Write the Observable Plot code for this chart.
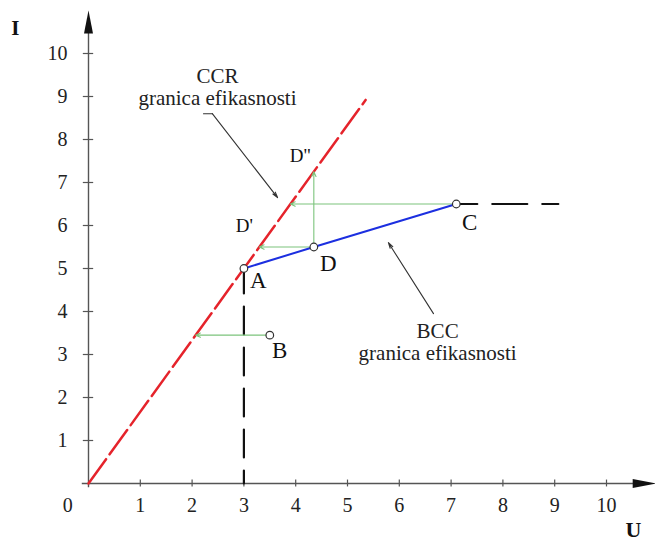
<!DOCTYPE html>
<html><head><meta charset="utf-8">
<script src="https://cdn.jsdelivr.net/npm/d3@7"></script>
<script src="https://cdn.jsdelivr.net/npm/@observablehq/plot@0.6"></script>
<style>body{margin:0;background:#fff}</style>
</head><body><div id="chart"></div>
<script>
// ---- data ----
const xTicks = [1, 2, 3, 4, 5, 6, 7, 8, 9, 10];
const yTicks = [1, 2, 3, 4, 5, 6, 7, 8, 9, 10];
const points = [
  {name: "A", u: 3, i: 5},
  {name: "B", u: 3.5, i: 3.45},
  {name: "C", u: 7.1, i: 6.5},
  {name: "D", u: 4.35, i: 5.5}
];
const bccFrontier = [{u: 3, i: 5}, {u: 4.35, i: 5.5}, {u: 7.1, i: 6.5}];
const ccrFrontier = [{u: 0, i: 0}, {u: 5.35, i: 8.92}];
const verticalExtension = [{u: 3, i: 5}, {u: 3, i: 0}];
const horizontalExtension = [{u: 7.1, i: 6.5}, {u: 9.07, i: 6.5}];
const projections = [
  {from: "D", u1: 4.35, i1: 5.5, u2: 3.3, i2: 5.5},
  {from: "D", u1: 4.35, i1: 5.5, u2: 4.35, i2: 7.25},
  {from: "C", u1: 7.1, i1: 6.5, u2: 3.9, i2: 6.5},
  {from: "B", u1: 3.5, i1: 3.45, u2: 2.07, i2: 3.45}
];
const pointLabels = [
  {text: "A", u: 3.28, i: 4.72},
  {text: "B", u: 3.69, i: 3.09},
  {text: "C", u: 7.36, i: 6.07},
  {text: "D", u: 4.63, i: 5.12}
];
const projLabels = [
  {text: "D'", u: 3.01, i: 6.0},
  {text: "D\"", u: 4.09, i: 7.63}
];
const notes = [
  {text: "CCR\ngranica efikasnosti", u: 2.49, i: 9.23},
  {text: "BCC\ngranica efikasnosti", u: 6.74, i: 3.30}
];
const ccrPointerTail = [{u: 2.22, i: 8.6}, {u: 2.39, i: 8.6}];
const ccrPointer = [{u1: 2.39, i1: 8.6, u2: 3.65, i2: 6.65}];
const bccPointer = [{u1: 6.66, i1: 3.95, u2: 5.79, i2: 5.6}];
const axisTitles = [
  {text: "I", u: -1.41, i: 10.58, size: 21},
  {text: "U", u: 10.52, i: -1.07, size: 22}
];
const axisLineX = [{u1: -0.12, u2: 10.8, i: 0}];
const axisLineY = [{u: 0, i1: -0.1, i2: 10.8}];
const axisTips = [{u: 10.95, i: 0, rot: 0}, {u: 0, i: 11.0, rot: -90}];
const originLabel = [{text: "0", u: -0.4, i: 0}];

// ---- styles ----
const axisColor = "#555";
const red = "#e5232b";
const blue = "#1c2fe0";
const green = "#7cc47c";
const font = "Liberation Serif, Times New Roman, serif";

const arrowHead = {
  draw(ctx) {
    ctx.moveTo(0, 0);
    ctx.lineTo(-23, -4.5);
    ctx.lineTo(-23, 4.5);
    ctx.closePath();
  }
};

const chart = Plot.plot({
  width: 655,
  height: 543,
  marginLeft: 88,
  marginRight: 49,
  marginTop: 53,
  marginBottom: 60,
  x: {domain: [0, 10]},
  y: {domain: [0, 10]},
  style: {fontFamily: font, background: "#fff", overflow: "visible"},
  marks: [
    // axes
    Plot.ruleY(axisLineX, {x1: "u1", x2: "u2", y: "i", stroke: axisColor, strokeWidth: 1.4}),
    Plot.ruleX(axisLineY, {x: "u", y1: "i1", y2: "i2", stroke: axisColor, strokeWidth: 1.4}),
    Plot.dot(axisTips, {x: "u", y: "i", symbol: arrowHead, rotate: "rot", fill: "#111", stroke: "none"}),
    Plot.ruleX(xTicks, {x: d => d, y1: -0.08, y2: 0.08, stroke: axisColor, strokeWidth: 1.2}),
    Plot.ruleY(yTicks, {y: d => d, x1: -0.1, x2: 0.1, stroke: axisColor, strokeWidth: 1.2}),
    Plot.axisX(xTicks, {tickSize: 0, tickPadding: 14, fontSize: 20, label: null, fill: "#222"}),
    Plot.axisY(yTicks, {tickSize: 0, tickPadding: 21, fontSize: 20, label: null, fill: "#222"}),
    Plot.text(originLabel, {x: "u", y: "i", text: "text", dy: 22, fontSize: 20, fill: "#222"}),
    Plot.text(axisTitles, {x: "u", y: "i", text: "text", fontSize: d => d.size, fontWeight: "bold", fill: "#111"}),

    // CCR frontier
    Plot.line(ccrFrontier, {x: "u", y: "i", stroke: red, strokeWidth: 2.5, strokeDasharray: "30,6"}),
    // dashed extensions
    Plot.line(verticalExtension, {x: "u", y: "i", stroke: "#111", strokeWidth: 2.2, strokeDasharray: "28,13", strokeDashoffset: 3}),
    Plot.line(horizontalExtension, {x: "u", y: "i", stroke: "#111", strokeWidth: 2.2, strokeDasharray: "35,15", strokeDashoffset: 14}),
    // projections
    Plot.arrow(projections, {x1: "u1", y1: "i1", x2: "u2", y2: "i2", stroke: green, strokeWidth: 1.1, headLength: 7, headAngle: 50, insetStart: 4}),
    // BCC frontier
    Plot.line(bccFrontier, {x: "u", y: "i", stroke: blue, strokeWidth: 2}),
    // points
    Plot.dot(points, {x: "u", y: "i", r: 3.8, fill: "#fff", stroke: "#333", strokeWidth: 1.2}),
    // labels
    Plot.text(pointLabels, {x: "u", y: "i", text: "text", fontSize: 23, fill: "#111"}),
    Plot.text(projLabels, {x: "u", y: "i", text: "text", fontSize: 19, fill: "#111"}),
    Plot.text(notes, {x: "u", y: "i", text: "text", fontSize: 21, lineHeight: 1.05, fill: "#222"}),
    // pointers
    Plot.line(ccrPointerTail, {x: "u", y: "i", stroke: "#333", strokeWidth: 1.1}),
    Plot.arrow(ccrPointer, {x1: "u1", y1: "i1", x2: "u2", y2: "i2", stroke: "#333", strokeWidth: 1.1, headLength: 8, headAngle: 30}),
    Plot.arrow(bccPointer, {x1: "u1", y1: "i1", x2: "u2", y2: "i2", stroke: "#333", strokeWidth: 1.1, headLength: 8, headAngle: 30})
  ]
});
document.getElementById("chart").appendChild(chart);
</script>
</body></html>
